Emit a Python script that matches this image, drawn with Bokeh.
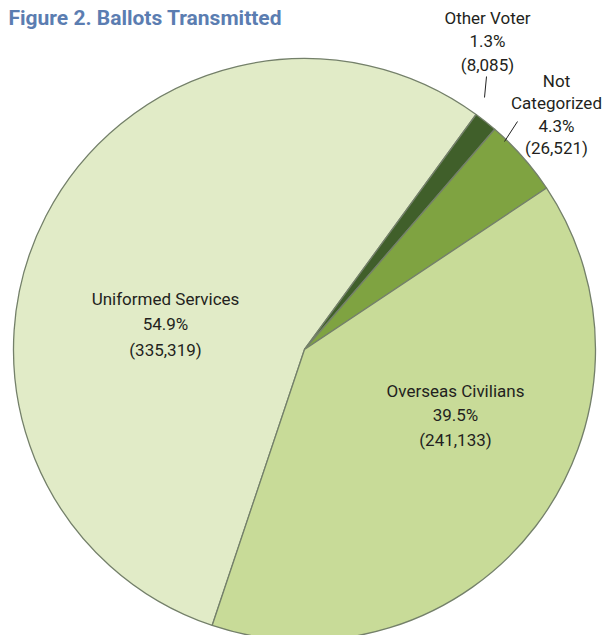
from bokeh.plotting import figure
from bokeh.models import Range1d, ColumnDataSource
from bokeh.embed import file_html
from bokeh.resources import INLINE
from bokeh.core.properties import value
import math

# ---- data ----
categories = ["Uniformed Services", "Other Voter", "Not Categorized", "Overseas Civilians"]
counts = [335319, 8085, 26521, 241133]
percents = [54.9, 1.3, 4.3, 39.5]
title_text = "Figure 2. Ballots Transmitted"

# ---- styles / layout ----
colors = ["#e1ebc7", "#405f2a", "#7fa341", "#c8db98"]
W, H = 605, 635
cx, cy_img, R = 304, 349, 291
start_compass = 198.5  # clockwise from up, where Uniformed Services starts

def Y(y_img):
    return H - y_img

p = figure(width=W, height=H, output_backend="svg", toolbar_location=None,
           x_range=Range1d(0, W), y_range=Range1d(0, H),
           min_border=0)
p.axis.visible = False
p.grid.visible = False
p.outline_line_color = None
p.background_fill_color = "white"
p.border_fill_color = "white"

total = sum(percents)
starts, ends = [], []
c = start_compass
for pct in percents:
    a = pct / total * 360.0
    starts.append(math.radians(90 - c))
    ends.append(math.radians(90 - (c + a)))
    c += a

src = ColumnDataSource(dict(start=starts, end=ends, color=colors, cat=categories))
p.wedge(x=cx, y=Y(cy_img), radius=R, start_angle="start", end_angle="end",
        direction="clock", fill_color="color", line_color="#74806a",
        line_width=1.3, source=src)

# leader lines
p.segment(x0=[486, 517], y0=[Y(76), Y(121)], x1=[484, 504], y1=[Y(97), Y(141)],
          line_color="#222222", line_width=1)

font = value("Roboto")
# label layout: (x, first line y, line spacing, lines)
layout = {
    "Uniformed Services": (165, 298, 25.5, ["Uniformed Services"]),
    "Other Voter": (487, 17, 23.5, ["Other Voter"]),
    "Not Categorized": (556, 80, 22.5, ["Not", "Categorized"]),
    "Overseas Civilians": (455, 390, 24.5, ["Overseas Civilians"]),
}
tx, ty, tt = [], [], []
for cat, pct, cnt in zip(categories, percents, counts):
    x0, y0, dy, names = layout[cat]
    lines = names + [f"{pct:.1f}%", f"({cnt:,})"]
    for i, s in enumerate(lines):
        tx.append(x0)
        ty.append(Y(y0 + i * dy))
        tt.append(s)
p.text(x=tx, y=ty, text=tt, text_font=font, text_font_size="17px",
       text_color="#231f20", text_align="center", text_baseline="middle")

p.text(x=[8], y=[Y(17)], text=[title_text], text_font=value("Roboto"),
       text_font_style="bold", text_font_size="21px", text_color="#5b7db1",
       text_align="left", text_baseline="middle")

open("out.html", "w").write(file_html(p, INLINE))
